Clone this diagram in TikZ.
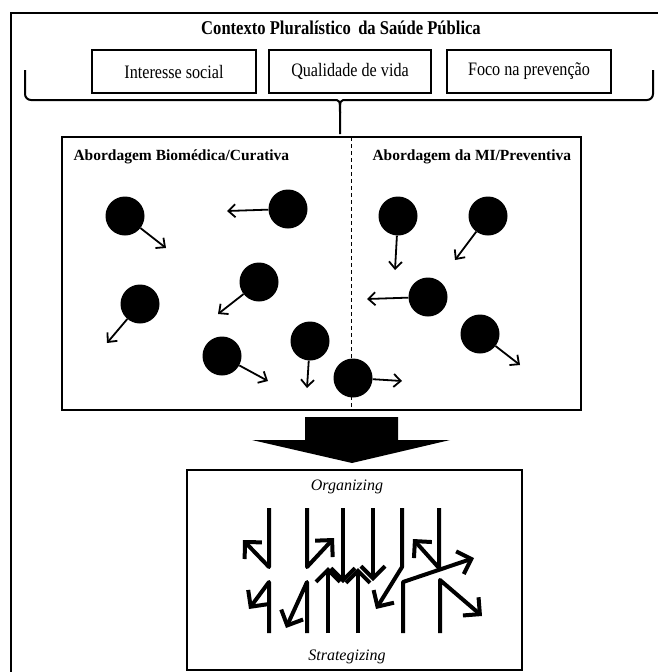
\documentclass[tikz,border=0pt]{standalone}
\usepackage{fontspec}
\setmainfont{Liberation Serif}
\newfontfamily\narrowserif[FakeStretch=0.85]{Liberation Serif}
\usetikzlibrary{arrows.meta}
\begin{document}
\begin{tikzpicture}[x=1pt,y=-1pt,
  frameline/.style={line width=2pt},
  topbox/.style={draw,line width=2pt,minimum height=43pt,inner sep=0pt,
    font=\narrowserif\fontsize{19}{21}\selectfont},
  ball/.style={circle,fill=black,minimum size=39pt,inner sep=0pt},
  thinarrow/.style={line width=1.8pt,-{Straight Barb[length=7pt,width=13pt]}},
  thickarrow/.style={line width=4pt,line join=round,-{Straight Barb[length=12pt,width=24pt]}},
  headfont/.style={font=\bfseries\fontsize{15.5}{17}\selectfont},
  itfont/.style={font=\itshape\fontsize{16}{18}\selectfont}
]
\useasboundingbox (0,0) rectangle (658,672);
\fill[white] (0,0) rectangle (658,672);

% outer frame (only top and left edges visible)
\draw[frameline] (11,672) -- (11,12.5) -- (658,12.5);

% title and top boxes
\node[font=\narrowserif\bfseries\fontsize{19.5}{21}\selectfont] (title) at (341,28) {Contexto Pluralístico\, da Saúde Pública};
\node[topbox,minimum width=164pt] (b1) at (174,71.5) {Interesse social};
\node[topbox,minimum width=162pt] (b2) at (350,71.5) {Qualidade de vida};
\node[topbox,minimum width=164pt] (b3) at (529,71.5) {Foco na prevenção};

% brace
\draw[line width=2pt,rounded corners=6pt] (25,70) -- (25,100) -- (333,100);
\draw[line width=2pt] (333,100) .. controls (340,100) .. (340,113) -- (340,134);
\draw[line width=2pt] (347,100) .. controls (340,100) .. (340,113);
\draw[line width=2pt,rounded corners=6pt] (347,100) -- (653,100) -- (653,70);

% middle box
\draw[line width=2.5pt] (62,137) rectangle (581,410);
\draw[line width=1pt,dashed,dash pattern=on 4pt off 3pt] (351,137) -- (351,410);
\node[headfont,anchor=west] (lab1) at (70,157) {Abordagem Biomédica/Curativa};
\node[headfont,anchor=west] (lab2) at (369,157) {Abordagem da MI/Preventiva};

% balls
\node[ball] (c1) at (125,216) {};
\node[ball] (c2) at (288,209) {};
\node[ball] (c3) at (259,282) {};
\node[ball] (c4) at (140,304) {};
\node[ball] (c5) at (222,356) {};
\node[ball] (c6) at (310,341) {};
\node[ball] (c7) at (353,378) {};
\node[ball] (c8) at (398,216) {};
\node[ball] (c9) at (488,216) {};
\node[ball] (c10) at (428,297) {};
\node[ball] (c11) at (480,334) {};
\coordinate (t1) at (166,248);
\coordinate (t2) at (227,211);
\coordinate (t3) at (218,314);
\coordinate (t4) at (107,343);
\coordinate (t5) at (268,381);
\coordinate (t6) at (307,388);
\coordinate (t7) at (402,381);
\coordinate (t8) at (395,270);
\coordinate (t9) at (455,260);
\coordinate (t10) at (367,299);
\coordinate (t11) at (520,365);
\foreach \i in {1,...,11} \draw[thinarrow] (c\i) -- (t\i);

% big arrow
\fill (305,417) -- (398,417) -- (398,440) -- (450,440) -- (352,463) -- (252,440) -- (305,440) -- cycle;

% bottom box
\draw[line width=2.5pt] (187,470) rectangle (522,670);
\node[itfont] (org) at (347,487) {Organizing};
\node[itfont] (str) at (347,657) {Strategizing};

% organizing / strategizing arrows
\draw[thickarrow] (269,508) -- (269,567) -- (243,540);
\draw[thickarrow] (307,508) -- (307,567) -- (334,538);
\draw[thickarrow] (343,508) -- (343,583);
\draw[thickarrow] (373,508) -- (373,581);
\draw[thickarrow] (402,508) -- (402,567) -- (376,609);
\draw[thickarrow] (439,508) -- (439,568) -- (413,539);
\draw[thickarrow] (269,633) -- (269,582) -- (249,609);
\draw[thickarrow] (307,633) -- (307,582) -- (286,628);
\draw[thickarrow] (328,633) -- (328,567);
\draw[thickarrow] (358,633) -- (358,568);
\draw[thickarrow] (403,633) -- (403,582) -- (474,558);
\draw[thickarrow] (440,633) -- (440,580) -- (482,616);
\end{tikzpicture}
\end{document}
